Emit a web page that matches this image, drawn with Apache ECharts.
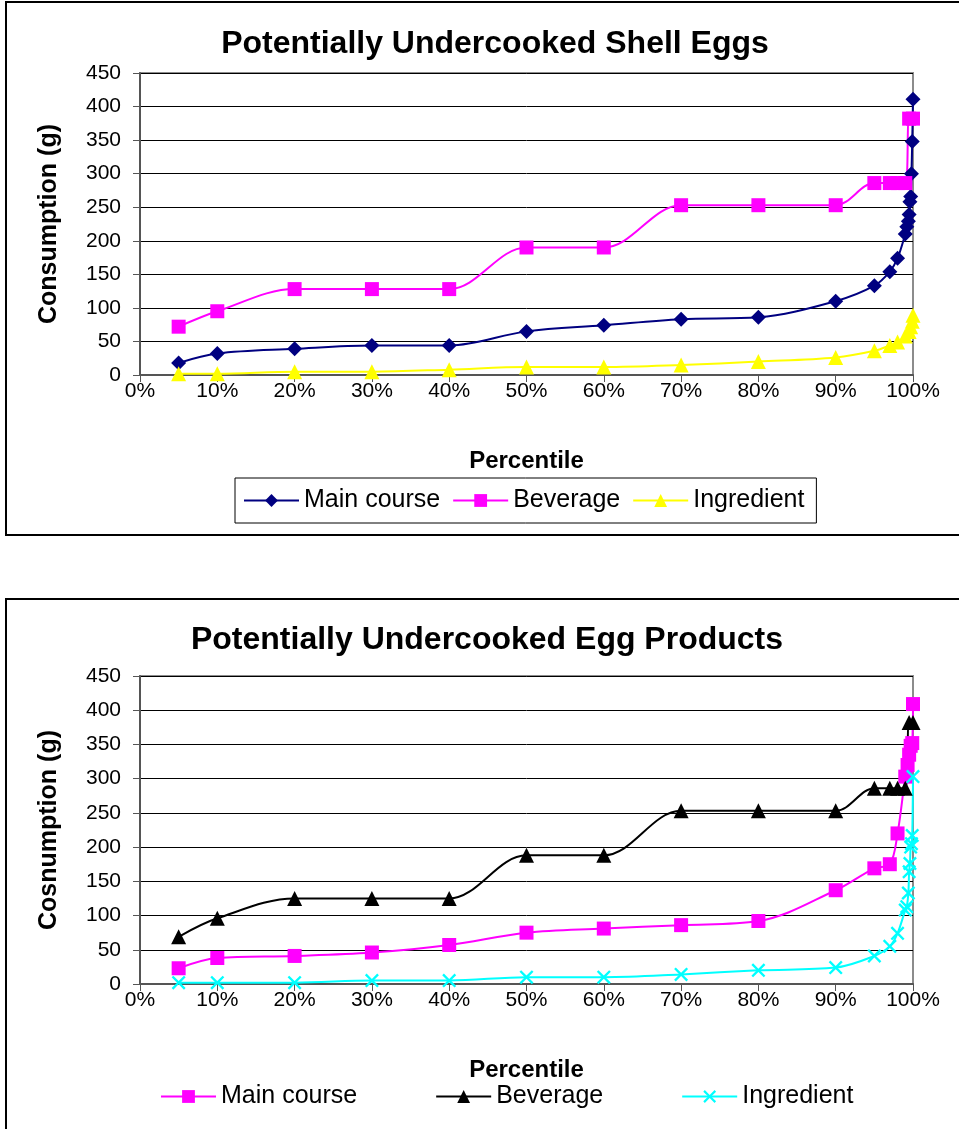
<!DOCTYPE html>
<html>
<head>
<meta charset="utf-8">
<script src="https://cdn.jsdelivr.net/npm/echarts@6/dist/echarts.min.js"></script>
<style>
html,body{margin:0;padding:0;width:959px;height:1129px;overflow:hidden;background:#fff;}
.box{position:absolute;border:2px solid #000;box-sizing:border-box;}
.chart{position:absolute;left:0;width:959px;}
</style>
</head>
<body>
<div class="box" style="left:5px;top:1px;width:970px;height:535px;"></div>
<div class="box" style="left:5px;top:598px;width:970px;height:560px;"></div>
<div id="c1" class="chart" style="top:0;height:560px;"></div>
<div id="c2" class="chart" style="top:598px;height:531px;"></div>
<script>
// ---------- Data: Shell eggs ----------
var shellMainPct = [5,10,20,30,40,50,60,70,80,90,95,97,98,99,99.2,99.4,99.5,99.6,99.7,99.8,99.9,100];
var shellMainVal = [18,32,39,44,44,65,74,83,86,110,133,154,174,210,221,229,239,258,266,300,348,411];
var shellBevPct  = [5,10,20,30,40,50,60,70,80,90,95,97,98,99,99.5,100];
var shellBevVal  = [72,95,128,128,128,190,190,253,253,253,286,286,286,286,382,382];
var shellIngPct  = [5,10,20,30,40,50,60,70,80,90,95,97,98,99,99.5,99.7,99.9,100];
var shellIngVal  = [2,2,5,5,8,12,12,15,20,26,36,44,49,58,65,72,80,89];
// ---------- Data: Egg products ----------
var prodMainPct = [5,10,20,30,40,50,60,70,80,90,95,97,98,99,99.3,99.5,99.7,99.9,100];
var prodMainVal = [23,38,41,46,57,75,81,86,92,137,169,175,220,303,320,335,348,352,409];
var prodBevPct  = [5,10,20,30,40,50,60,70,80,90,95,97,98,99,99.5,100];
var prodBevVal  = [69,96,125,125,125,188,188,253,253,253,286,286,286,286,382,382];
var prodIngPct  = [5,10,20,30,40,50,60,70,80,90,95,97,98,99,99.2,99.4,99.5,99.6,99.7,99.8,99.9,100];
var prodIngVal  = [2,2,2,5,5,10,10,14,20,24,41,55,74,108,113,133,164,176,200,205,217,303];

var titles = ['Potentially Undercooked Shell Eggs','Potentially Undercooked Egg Products'];
var yNames = ['Consumption (g)','Cosnumption (g)'];
var xName = 'Percentile';
var seriesNames = ['Main course','Beverage','Ingredient'];

function pairs(xs, ys){ return xs.map(function(x,i){ return [x, ys[i]]; }); }

var FONT = 'Liberation Sans, Arial, sans-serif';
var X_SYM = 'path://M0,1.2 L1.2,0 L5,3.8 L8.8,0 L10,1.2 L6.2,5 L10,8.8 L8.8,10 L5,6.2 L1.2,10 L0,8.8 L3.8,5 Z';

function mkSeries(name, data, color, symbol, size){
  return {
    name: name, type: 'line', data: data, smooth: 0.35,
    symbol: symbol, symbolSize: size, showSymbol: true,
    lineStyle: {color: color, width: 2},
    itemStyle: {color: color},
    emphasis: {disabled: true},
    animation: false
  };
}

function mkAxes(gridTop, gridH, yName){
  return {
    grid: {left: 140, top: gridTop, width: 773, height: gridH, show: true, borderColor: '#8c8c8c', borderWidth: 2, backgroundColor: '#fff'},
    xAxis: {
      type: 'value', min: 0, max: 100, interval: 10,
      name: xName, nameLocation: 'middle', nameGap: 74,
      nameTextStyle: {fontFamily: FONT, fontSize: 24, fontWeight: 'bold', color: '#000'},
      axisLine: {show: true, lineStyle: {color: '#555', width: 2}},
      axisTick: {show: true, length: 7, lineStyle: {color: '#555', width: 1}},
      axisLabel: {formatter: '{value}%', fontFamily: FONT, fontSize: 21, color: '#000', margin: 6},
      splitLine: {show: false}
    },
    yAxis: {
      type: 'value', min: 0, max: 450, interval: 50,
      name: yName, nameLocation: 'middle', nameGap: 78, nameRotate: 90,
      nameTextStyle: {fontFamily: FONT, fontSize: 25, fontWeight: 'bold', color: '#000'},
      axisLine: {show: true, lineStyle: {color: '#555', width: 2}},
      axisTick: {show: true, length: 7, lineStyle: {color: '#555', width: 1}},
      axisLabel: {fontFamily: FONT, fontSize: 21, color: '#000', margin: 19},
      splitLine: {show: true, lineStyle: {color: '#000', width: 1}}
    }
  };
}

// Chart 1
var a1 = mkAxes(73, 302, yNames[0]);
var opt1 = {
  animation: false,
  title: {text: titles[0], left: 490, top: 23, textAlign: 'center',
    textStyle: {fontFamily: FONT, fontSize: 32, fontWeight: 'bold', color: '#000'}},
  grid: a1.grid, xAxis: a1.xAxis, yAxis: a1.yAxis,
  legend: {
    left: 235, top: 478, orient: 'horizontal', itemWidth: 55, itemHeight: 16, itemGap: 12,
    padding: [10, 12, 10, 8], borderColor: '#000', borderWidth: 1,
    textStyle: {fontFamily: FONT, fontSize: 25, color: '#000'},
    data: seriesNames
  },
  series: [
    mkSeries(seriesNames[0], pairs(shellMainPct, shellMainVal), '#000080', 'diamond', 15),
    mkSeries(seriesNames[1], pairs(shellBevPct, shellBevVal), '#FF00FF', 'rect', 14),
    mkSeries(seriesNames[2], pairs(shellIngPct, shellIngVal), '#FFFF00', 'triangle', 15)
  ]
};
echarts.init(document.getElementById('c1'), null, {renderer: 'canvas'}).setOption(opt1);

// Chart 2
var a2 = mkAxes(78, 308, yNames[1]);
var opt2 = {
  animation: false,
  title: {text: titles[1], left: 482, top: 21, textAlign: 'center',
    textStyle: {fontFamily: FONT, fontSize: 32, fontWeight: 'bold', color: '#000'}},
  grid: a2.grid, xAxis: a2.xAxis, yAxis: a2.yAxis,
  legend: {
    left: 155, top: 481, orient: 'horizontal', itemWidth: 55, itemHeight: 16, itemGap: 78,
    padding: [5, 5, 5, 5],
    textStyle: {fontFamily: FONT, fontSize: 25, color: '#000'},
    data: seriesNames
  },
  series: [
    mkSeries(seriesNames[0], pairs(prodMainPct, prodMainVal), '#FF00FF', 'rect', 14),
    mkSeries(seriesNames[1], pairs(prodBevPct, prodBevVal), '#000000', 'triangle', 15),
    mkSeries(seriesNames[2], pairs(prodIngPct, prodIngVal), '#00FFFF', X_SYM, 14)
  ]
};
echarts.init(document.getElementById('c2'), null, {renderer: 'canvas'}).setOption(opt2);
</script>
</body>
</html>
